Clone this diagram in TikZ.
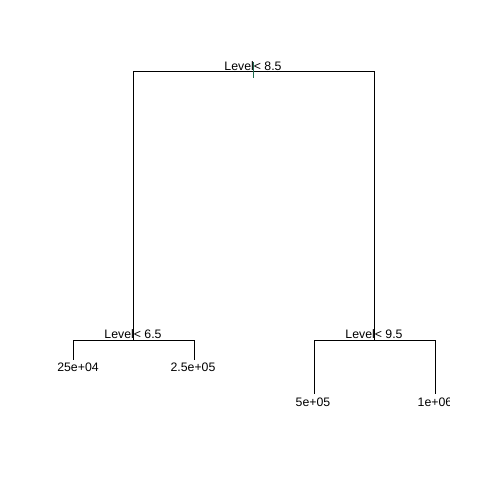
\documentclass[tikz,border=0pt]{standalone}
\usepackage{fontspec}
\setmainfont{Liberation Sans}
\usetikzlibrary{positioning}
\definecolor{TickGreen}{HTML}{1E6B4F}

\begin{document}
\begin{tikzpicture}[x=0.02cm, y=-0.02cm,
        branch/.style={line width=0.5pt, black},
        splitlabel/.style={anchor=base, inner sep=0pt, font=\fontsize{7}{8}\selectfont},
        leaflabel/.style={anchor=base, inner sep=0pt, font=\fontsize{7}{8}\selectfont}]
    \useasboundingbox (0,0) rectangle (480,480);
    % split points
    \coordinate (root) at (253,71);
    \coordinate (rootL) at (133,71);
    \coordinate (rootR) at (374,71);
    \coordinate (left) at (133,340);
    \coordinate (leftL) at (73,340);
    \coordinate (leftR) at (194,340);
    \coordinate (right) at (374,340);
    \coordinate (rightL) at (314,340);
    \coordinate (rightR) at (435,340);
    \coordinate (leaf1) at (73,360);
    \coordinate (leaf2) at (194,360);
    \coordinate (leaf3) at (314,394);
    \coordinate (leaf4) at (435,394);
    % labels
    \node[splitlabel] (rootlab) at (253,70) {Level< 8.5};
    \node[splitlabel] (leftlab) at (133,338) {Level< 6.5};
    \node[splitlabel] (rightlab) at (374,338) {Level< 9.5};
    \node[leaflabel] (lab1) at (78,371) {25e+04};
    \node[leaflabel] (lab2) at (193,371) {2.5e+05};
    \node[leaflabel] (lab3) at (313,406) {5e+05};
    \begin{scope}
        \clip (400,380) rectangle (449,420);
        \node[leaflabel] (lab4) at (435,406) {1e+06};
    \end{scope}
    % branches
    \draw[branch] (rootL) -- (rootR);
    \draw[branch] (rootL) -- (left);
    \draw[branch] (rootR) -- (right);
    \draw[branch] (leftL) -- (leftR);
    \draw[branch] (leftL) -- (leaf1);
    \draw[branch] (leftR) -- (leaf2);
    \draw[branch] (rightL) -- (rightR);
    \draw[branch] (rightL) -- (leaf3);
    \draw[branch] (rightR) -- (leaf4);
    \draw[line width=0.5pt, TickGreen] ([yshift=0.18cm]root) -- ([yshift=-0.14cm]root);
\end{tikzpicture}
\end{document}
